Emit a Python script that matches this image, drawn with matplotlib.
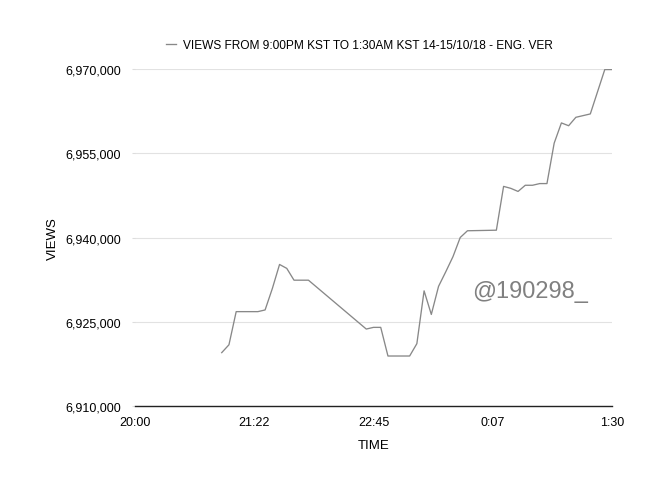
import matplotlib
matplotlib.use("Agg")
import matplotlib.pyplot as plt
import matplotlib.dates as mdates
from matplotlib.ticker import FuncFormatter
import pandas as pd

# views, 14-15/10/18 KST
times = ["21:00", "21:05", "21:10", "21:25", "21:30", "21:35", "21:40", "21:45",
         "21:50", "22:00", "22:40", "22:45", "22:50", "22:55", "23:10", "23:15",
         "23:20", "23:25", "23:30", "23:35", "23:40", "23:45", "23:50", "0:10",
         "0:15", "0:20", "0:25", "0:30", "0:35", "0:40", "0:45", "0:50", "0:55",
         "1:00", "1:05", "1:15", "1:25", "1:30"]
views = [6919500, 6920900, 6926800, 6926800, 6927100, 6930900, 6935200, 6934500,
         6932400, 6932400, 6923700, 6924000, 6924000, 6918900, 6918900, 6921100,
         6930500, 6926300, 6931300, 6933900, 6936600, 6940000, 6941200, 6941300,
         6949100, 6948750, 6948200, 6949300, 6949300, 6949600, 6949600, 6956800,
         6960400, 6959900, 6961400, 6962000, 6969900, 6969900]
y_ticks = [6910000, 6925000, 6940000, 6955000, 6970000]
series_label = "VIEWS FROM 9:00PM KST TO 1:30AM KST 14-15/10/18 - ENG. VER"

plt.rcParams["font.family"] = ["Liberation Sans", "DejaVu Sans"]

def to_stamp(s):
    h, m = map(int, s.split(":"))
    day = "2018-10-14" if h >= 12 else "2018-10-15"
    return pd.Timestamp(f"{day} {h:02d}:{m:02d}")

t = [to_stamp(s) for s in times]
x0 = pd.Timestamp("2018-10-14 20:00")
x1 = pd.Timestamp("2018-10-15 01:30")

fig = plt.figure(figsize=(6.63, 4.85), dpi=100)
ax = fig.add_axes([135 / 663, 78 / 485, 477 / 663, 337 / 485])

ax.plot(t, views, color="#888888", lw=0.95, label=series_label)

ax.set_xlim(x0, x1)
ax.set_ylim(6910000, 6970000)

# ticks every 82.5 minutes, like the original
xt = [x0 + pd.Timedelta(minutes=82.5 * i) for i in range(5)]
ax.set_xticks(xt)
ax.xaxis.set_major_formatter(FuncFormatter(
    lambda v, p: f"{mdates.num2date(v).hour}:{mdates.num2date(v).minute:02d}"))
ax.set_yticks(y_ticks)
ax.yaxis.set_major_formatter(FuncFormatter(lambda v, p: f"{int(v):,}"))

for s in ["top", "right", "left"]:
    ax.spines[s].set_visible(False)
ax.spines["bottom"].set_color("#222222")
ax.spines["bottom"].set_linewidth(1.0)

ax.grid(axis="y", color="#e2e2e2", lw=0.8)
ax.set_axisbelow(True)
ax.tick_params(axis="y", length=2, color="#dddddd", labelsize=9, pad=8)
ax.tick_params(axis="x", length=0, labelsize=9, pad=7)

ax.set_xlabel("TIME", fontsize=9.5, labelpad=8)
ax.set_ylabel("VIEWS", fontsize=9.5, labelpad=4.5)

ax.legend(loc="lower center", bbox_to_anchor=(0.471, 1.04), frameon=False,
          fontsize=8.6, handlelength=0.8, handletextpad=0.65, borderaxespad=0)

# watermark, placed in pixels from the bottom-left corner
ax.text(472, 187, "@190298_", transform=None, fontsize=17, color="#808080")

fig.savefig("out.png", dpi=100)
